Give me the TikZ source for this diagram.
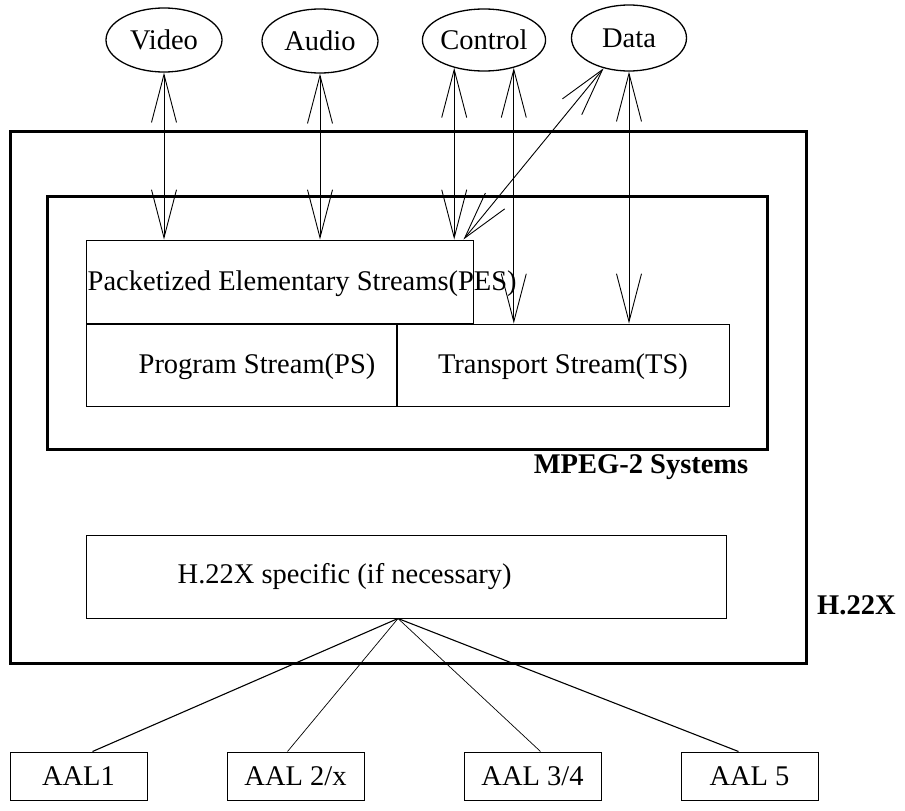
\documentclass[tikz,border=0pt]{standalone}
\usepackage{fontspec}
\setmainfont{Liberation Serif}
\usetikzlibrary{shapes.geometric,arrows.meta,positioning,calc}

\begin{document}
\begin{tikzpicture}[
    x=1pt, y=-1pt,
    every node/.style={font=\fontsize{28.5}{32}\selectfont, inner sep=0pt},
    stream/.style={ellipse, draw, line width=1.3pt, minimum width=116pt, minimum height=64pt},
    layer/.style={rectangle, draw, line width=1pt},
    frame/.style={rectangle, draw, line width=3pt},
    aal/.style={rectangle, draw, line width=1pt, minimum width=137pt, minimum height=48pt},
    arrow/.style={{Straight Barb[length=48pt,width=25pt]}-{Straight Barb[length=48pt,width=25pt]}, line width=0.9pt},
    link/.style={line width=1.1pt},
    thinlink/.style={line width=0.7pt},
    title/.style={font=\fontsize{28.5}{32}\selectfont\bfseries},
]
\useasboundingbox (0,0) rectangle (905,811);

% === ELEMENTARY STREAMS ===
\node[stream] (video) at (164,40) {Video};
\node[stream] (audio) at (320,41) {Audio};
\node[stream, minimum width=115pt, minimum height=62pt] (control) at (484,40) {Control};
\node[stream, minimum width=115pt, minimum height=66pt] (data) at (629,38) {Data};

% === H.22X / MPEG-2 FRAMES ===
\node[frame, minimum width=796pt, minimum height=532pt] (h22x) at (408,397) {};
\node[frame, minimum width=720pt, minimum height=253pt] (mpeg) at (407,322.5) {};

\node[layer, minimum width=387pt, minimum height=83pt] (pes) at (279.5,281.5) {};
\node[anchor=west] (pestext) at ([xshift=2pt,yshift=-2pt]pes.west) {Packetized Elementary Streams(PES)};
\node[layer, minimum width=310pt, minimum height=82pt, below right=0pt of pes.south west] (ps) {};
\node[layer, minimum width=332pt, minimum height=82pt, right=0pt of ps] (ts) {};
\node (pstext) at ([xshift=16pt,yshift=-2pt]ps.center) {Program Stream(PS)};
\node (tstext) at ([yshift=-2pt]ts.center) {Transport Stream(TS)};

\node[title, anchor=east] (mpeglabel) at ([xshift=-20pt,yshift=-17pt]mpeg.south east) {MPEG-2 Systems};

\node[layer, minimum width=640pt, minimum height=83pt] (spec) at (406,576.5) {};
\node[anchor=west] (spectext) at ([xshift=92pt]spec.west) {H.22X specific (if necessary)};

\node[title, anchor=west] (h22xlabel) at (817,605) {H.22X};

% === AAL ===
\node[aal] (aal1) at (78.5,776) {AAL1};
\node[aal, right=79pt of aal1] (aal2) {AAL 2/x};
\node[aal, right=99pt of aal2] (aal3) {AAL 3/4};
\node[aal, right=79pt of aal3] (aal5) {AAL 5};

% streams into the layers
\draw[arrow] (video.south) -- (video.south |- pes.north);
\draw[arrow] (audio.south) -- (audio.south |- pes.north);
\draw[arrow] (control.-137) -- (control.-137 |- pes.north);
\draw[arrow] (control.-43) -- (control.-43 |- ts.north);
\draw[arrow] (data.-130) -- ([xshift=-10pt]pes.north east);
\draw[arrow] (data.south) -- (data.south |- ts.north);

% fan out to the adaptation layers
\coordinate (fan) at ([xshift=-8pt]spec.south);
\draw[link] (fan) -- ([xshift=14pt]aal1.north);
\draw[thinlink] (fan) -- ([xshift=-8pt]aal2.north);
\draw[thinlink] (fan) -- ([xshift=8pt]aal3.north);
\draw[link] (fan) -- ([xshift=-11pt]aal5.north);

\end{tikzpicture}
\end{document}
